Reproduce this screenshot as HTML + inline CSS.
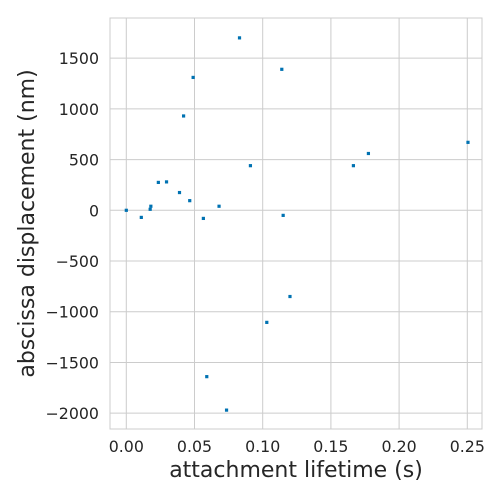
<!DOCTYPE html>
<html><head><meta charset="utf-8"><style>
body{margin:0;background:#fff;font-family:"DejaVu Sans","Liberation Sans",sans-serif}
</style></head><body>
<svg id="chart" width="500" height="500" xmlns="http://www.w3.org/2000/svg" font-family="DejaVu Sans, Liberation Sans, sans-serif"></svg>
<script>
const xValues=[0,0.011,0.0175,0.018,0.0235,0.0295,0.039,0.0465,0.0565,0.068,0.042,0.049,0.059,0.0735,0.083,0.091,0.103,0.114,0.115,0.12,0.1665,0.1775,0.2505];
const yValues=[0,-70,10,40,275,280,175,95,-80,40,930,1310,-1640,-1970,1700,440,-1105,1390,-50,-850,440,560,670];
const xTicks=[0,0.05,0.1,0.15,0.2,0.25];
const xTickLabels=["0.00","0.05","0.10","0.15","0.20","0.25"];
const yTicks=[-2000,-1500,-1000,-500,0,500,1000,1500];
const L=110,R=482,T=18,B=429;
const sx=v=>126.3+v*1364;
const sy=v=>210.3-v*0.10143;
const svg=document.getElementById('chart');
const NS='http://www.w3.org/2000/svg';
function mk(tag,attrs,parent){const e=document.createElementNS(NS,tag);for(const k in attrs)e.setAttribute(k,attrs[k]);(parent||svg).appendChild(e);return e;}
const grid=mk('g',{});


xTicks.forEach((t,i)=>{
  mk('line',{x1:sx(t),x2:sx(t),y1:T,y2:B,stroke:'#cccccc','stroke-width':1},grid);
  const tx=mk('text',{x:sx(t),y:452,'text-anchor':'middle','font-size':15.8,fill:'#262626'});
  tx.textContent=xTickLabels[i];
  
  
});
yTicks.forEach(t=>{
  mk('line',{x1:L,x2:R,y1:sy(t),y2:sy(t),stroke:'#cccccc','stroke-width':1},grid);
  const tx=mk('text',{x:L-11,y:sy(t)+6,'text-anchor':'end','font-size':15.8,fill:'#262626'});
  tx.textContent=String(t).replace('-','\u2212');
  
  
});
const frame=mk('rect',{x:L,y:T,width:R-L,height:B-T,fill:'none',stroke:'#cccccc','stroke-width':1});


xValues.forEach((x,i)=>{
  const p=mk('rect',{x:sx(x)-1.6,y:sy(yValues[i])-1.6,width:3.2,height:3.2,fill:'#0072b2'});
  
  
});
const xl=mk('text',{x:(L+R)/2+0,y:477,'text-anchor':'middle','font-size':22,fill:'#262626'});
xl.textContent='attachment lifetime (s)';


const yl=mk('text',{x:0,y:0,'text-anchor':'middle','font-size':22,fill:'#262626',transform:'translate(34,'+((T+B)/2)+') rotate(-90)'});
yl.textContent='abscissa displacement (nm)';


</script>
</body></html>
